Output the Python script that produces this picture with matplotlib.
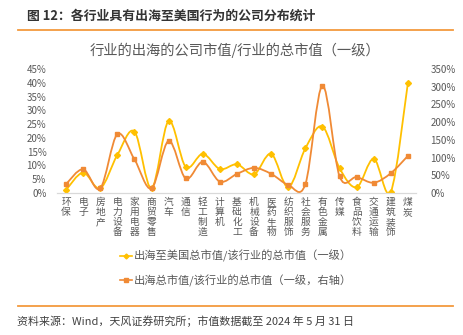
import numpy as np
import matplotlib
matplotlib.use("Agg")
import matplotlib.pyplot as plt
from matplotlib.path import Path
from matplotlib.patches import PathPatch
from matplotlib.lines import Line2D
from matplotlib.ticker import FuncFormatter

plt.rcParams['font.family'] = ['Noto Sans CJK SC', 'DejaVu Sans']

industries = ["环保", "电子", "房地产", "电力设备", "家用电器", "商贸零售", "汽车",
              "通信", "轻工制造", "计算机", "基础化工", "机械设备", "医药生物",
              "纺织服饰", "社会服务", "有色金属", "传媒", "食品饮料", "交通运输",
              "建筑装饰", "煤炭"]
# 出海至美国总市值/该行业的总市值（左轴）
us_share = [1.1, 7.4, 1.7, 13.8, 22.3, 1.7, 26.1, 9.5, 14.2, 8.7, 10.4,
            6.8, 14.2, 2.1, 16.2, 24.1, 9.0, 2.1, 12.4, 0.5, 40.1]
# 出海总市值/该行业的总市值（右轴）
overseas_share = [25, 67, 13, 166, 95, 13, 147, 41, 88, 32, 54,
                  71, 54, 23, 25, 303, 47, 45, 29, 56, 105]

YELLOW = "#FFC000"
ORANGE = "#F08A35"
GRAY = "#595959"


def smooth_path(x, y):
    # cubic Bezier segments through every point (Catmull-Rom style)
    x = np.asarray(x, float)
    y = np.asarray(y, float)
    pts = np.column_stack([x, y])
    verts = [pts[0]]
    codes = [Path.MOVETO]
    n = len(pts)
    for i in range(n - 1):
        p0 = pts[max(i - 1, 0)]
        p1 = pts[i]
        p2 = pts[i + 1]
        p3 = pts[min(i + 2, n - 1)]
        c1 = p1 + (p2 - p0) / 6.0
        c2 = p2 - (p3 - p1) / 6.0
        verts += [c1, c2, p2]
        codes += [Path.CURVE4] * 3
    return Path(verts, codes)


fig = plt.figure(figsize=(4.64, 3.35), dpi=100)
W, H = 464, 335

# header
fig.text(27 / W, 1 - 16 / H, "图 12：各行业具有出海至美国行为的公司分布统计",
         fontsize=9.3, fontweight="bold", color="#333333", va="center", ha="left")
fig.add_artist(Line2D([18 / W, 453 / W], [1 - 30 / H, 1 - 30 / H],
                      color="#F39A3E", lw=1.3))
fig.text(235 / W, 1 - 50 / H, "行业的出海的公司市值/行业的总市值（一级）",
         fontsize=10.3, color=GRAY, va="center", ha="center")

ax = fig.add_axes([57.5 / W, (H - 193) / H, 359 / W, 124 / H])
ax2 = ax.twinx()

x = np.arange(len(industries))

ax.add_patch(PathPatch(smooth_path(x, us_share), fill=False, ec=YELLOW, lw=1.3))
ax.plot(x, us_share, ls="none", marker="D", ms=3.0, color=YELLOW)
ax2.add_patch(PathPatch(smooth_path(x, np.array(overseas_share) / 100),
                        fill=False, ec=ORANGE, lw=1.3))
ax2.plot(x, np.array(overseas_share) / 100, ls="none", marker="s", ms=3.4, color=ORANGE)

ax.set_xlim(-0.5, len(industries) - 0.5)
ax.set_ylim(0, 45)
ax2.set_ylim(0, 3.5)
ax.set_yticks(np.arange(0, 46, 5))
ax2.set_yticks(np.arange(0, 3.51, 0.5))
ax.yaxis.set_major_formatter(FuncFormatter(lambda v, p: f"{v:.0f}%"))
ax2.yaxis.set_major_formatter(FuncFormatter(lambda v, p: f"{v * 100:.0f}%"))

ax.set_xticks(x)
ax.set_xticklabels(["\n".join(name) for name in industries],
                   fontsize=6.6, color=GRAY, linespacing=1.0, va="top")

for a in (ax, ax2):
    for side in ("top", "left", "right"):
        a.spines[side].set_visible(False)
    a.spines["bottom"].set_color("#D9D9D9")
    a.tick_params(length=0, labelsize=7, colors=GRAY)
ax.tick_params(axis="x", pad=3)
ax.tick_params(axis="y", pad=8)
ax2.tick_params(axis="y", pad=10)
ax.patch.set_visible(False)

# legend
handles = [Line2D([], [], color=YELLOW, lw=1.2, marker="D", ms=2.5),
           Line2D([], [], color=ORANGE, lw=1.2, marker="s", ms=3)]
labels = ["出海至美国总市值/该行业的总市值（一级）",
          "出海总市值/该行业的总市值（一级，右轴）"]
fig.legend(handles, labels, loc="upper left", bbox_to_anchor=(120 / W, 1 - 250 / H),
           frameon=False, fontsize=8.1, labelcolor=GRAY, handlelength=1.05,
           handletextpad=0.2, labelspacing=1.1, borderaxespad=0, borderpad=0)

# footer
fig.add_artist(Line2D([18 / W, 453 / W], [1 - 306 / H, 1 - 306 / H],
                      color="#F39A3E", lw=1.3))
fig.text(17 / W, 1 - 321 / H, "资料来源：Wind，天风证券研究所；市值数据截至 2024 年 5 月 31 日",
         fontsize=7.9, color="#404040", va="center", ha="left")

fig.savefig("out.png", dpi=100)
